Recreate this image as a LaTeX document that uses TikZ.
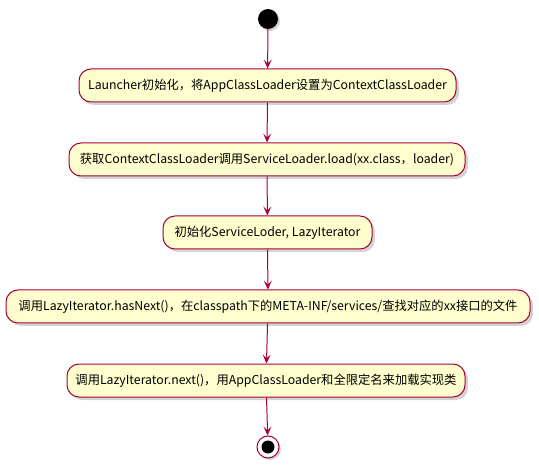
\documentclass[tikz,border=0pt]{standalone}
\usepackage{fontspec}
\setmainfont{Noto Sans CJK SC}
\usetikzlibrary{shadows,arrows.meta}
\definecolor{pumlred}{HTML}{A80036}
\definecolor{pumlfill}{HTML}{FEFECE}
\begin{document}
\begin{tikzpicture}[x=1pt,y=-1pt,
  act/.style={draw=pumlred, fill=pumlfill, line width=1pt, rounded corners=12pt,
    minimum height=33pt, inner xsep=6pt, font=\fontsize{12.3}{14}\selectfont,
    drop shadow={shadow xshift=3pt, shadow yshift=-3pt, opacity=0.35, fill=gray}},
  flow/.style={draw=pumlred, line width=1pt, -{Stealth[length=9pt,width=8pt,inset=4pt]}}]
\useasboundingbox (0,0) rectangle (539,468);
\node[circle, fill=black, minimum size=20pt, inner sep=0pt,
  drop shadow={shadow xshift=2pt, shadow yshift=-2pt, opacity=0.35, fill=gray}] (start) at (268,19) {};
\node[act, minimum width=377pt] (a1) at (267.5,85.5) {Launcher初始化，将AppClassLoader设置为ContextClassLoader};
\node[act, minimum width=396pt] (a2) at (267,159.5) {获取ContextClassLoader调用ServiceLoader.load(xx.class，loader)};
\node[act, minimum width=209pt] (a3) at (267.5,232.5) {初始化ServiceLoder, LazyIterator};
\node[act, minimum width=524pt] (a4) at (268,306.5) {调用LazyIterator.hasNext()，在classpath下的META-INF/services/查找对应的xx接口的文件};
\node[act, minimum width=398pt] (a5) at (266,380.5) {调用LazyIterator.next()，用AppClassLoader和全限定名来加载实现类};
\node[circle, draw=pumlred, fill=white, line width=1pt, minimum size=22pt, inner sep=0pt,
  drop shadow={shadow xshift=2pt, shadow yshift=-2pt, opacity=0.35, fill=gray}] (stop) at (268,447) {};
\node[circle, fill=black, minimum size=13pt, inner sep=0pt] (stopin) at (268,447) {};
\draw[flow] (start) -- (a1);
\draw[flow] (a1) -- (a2);
\draw[flow] (a2) -- (a3);
\draw[flow] (a3) -- (a4);
\draw[flow] (a4) -- (a5);
\draw[flow] (a5) -- (stop);
\end{tikzpicture}
\end{document}
